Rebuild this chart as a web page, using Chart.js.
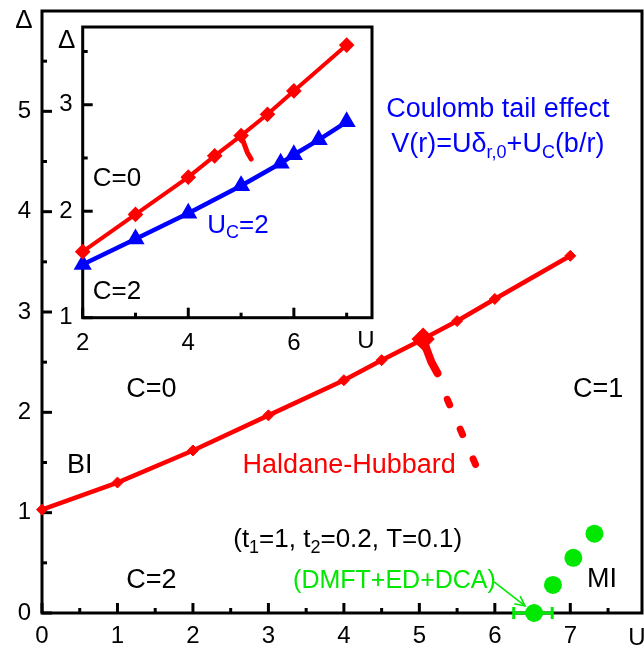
<!DOCTYPE html>
<html>
<head>
<meta charset="utf-8">
<script src="https://cdn.jsdelivr.net/npm/chart.js@4/dist/chart.umd.min.js"></script>
<style>
  html, body { margin: 0; padding: 0; background: #fff; }
  #wrap { position: relative; width: 644px; height: 652px; overflow: hidden; }
  #main { position: absolute; left: 0; top: 0; }
  #inset { position: absolute; left: 48px; top: 14px; }
</style>
</head>
<body>
<div id="wrap">
  <canvas id="main" width="644" height="652"></canvas>
  <canvas id="inset" width="336" height="340"></canvas>
</div>
<script>
// ---- Haldane-Hubbard phase boundary (gap Δ versus U) ----
const hhU   = [0, 1, 2, 3, 4, 4.5, 5, 5.5, 6, 7];
const hhGap = [1.03, 1.30, 1.62, 1.97, 2.32, 2.52, 2.71, 2.91, 3.13, 3.56];

// branch leaving the line near U = 5 (solid part, then dashed continuation)
const branchU   = [5.05, 5.10, 5.16, 5.24];
const branchGap = [2.73, 2.62, 2.50, 2.39];
const dashU   = [5.37, 5.75];
const dashGap = [2.13, 1.47];

// Mott transition points (DMFT+ED+DCA) and the error bar on the first one
const mottU   = [6.52, 6.77, 7.04, 7.32];
const mottGap = [0.00, 0.28, 0.55, 0.79];
const mottErrLo = 6.25, mottErrHi = 6.76;

// Coulomb-tail comparison (inset)
const insetU   = [2, 3, 4, 4.5, 5, 5.5, 6, 7];
const insetGap = [1.62, 1.97, 2.32, 2.52, 2.71, 2.91, 3.13, 3.56];
const insetBranchU   = [5.0, 5.06, 5.12, 5.19];
const insetBranchGap = [2.71, 2.63, 2.55, 2.49];
const tailU   = [2, 3, 4, 5, 5.75, 6, 6.47, 7];
const tailGap = [1.50, 1.74, 1.98, 2.24, 2.45, 2.53, 2.67, 2.84];

// tick values
const mainXTicks = [0, 1, 2, 3, 4, 5, 6, 7];
const mainXMinor = [0.5, 1.5, 2.5, 3.5, 4.5, 5.5, 6.5, 7.5];
const mainYTicks = [0, 1, 2, 3, 4, 5];
const mainYMinor = [0.5, 1.5, 2.5, 3.5, 4.5, 5.5];
const insetXTicks = [2, 4, 6];
const insetXMinor = [3, 5, 7];
const insetYTicks = [1, 2, 3];
const insetYMinor = [1.5, 2.5, 3.5];

const RED = '#ff0000', BLUE = '#0000ff', GREEN = '#00e800', BLACK = '#000000';
const FONT = "'Liberation Sans', Arial, Helvetica, sans-serif";

const pts = (xs, ys) => xs.map((v, i) => ({ x: v, y: ys[i] }));

// draws text made of runs, some of which may be subscripts
function richText(ctx, runs, x, y, align, size, color) {
  ctx.save();
  ctx.fillStyle = color;
  ctx.textBaseline = 'alphabetic';
  ctx.textAlign = 'left';
  const subSize = Math.round(size * 0.68);
  let w = 0;
  runs.forEach(r => {
    ctx.font = (r.sub ? subSize : size) + 'px ' + FONT;
    r.w = ctx.measureText(r.t).width;
    w += r.w;
  });
  let cx = align === 'center' ? x - w / 2 : (align === 'right' ? x - w : x);
  runs.forEach(r => {
    ctx.font = (r.sub ? subSize : size) + 'px ' + FONT;
    ctx.fillText(r.t, cx, r.sub ? y + size * 0.22 : y);
    cx += r.w;
  });
  ctx.restore();
}
const plain = t => [{ t }];

// box around the plot area plus inward major/minor tick marks
const framePlugin = {
  id: 'frame',
  beforeDatasetsDraw(chart, args, o) {
    const { ctx, chartArea: a, scales: { x, y } } = chart;
    ctx.save();
    ctx.strokeStyle = BLACK;
    ctx.lineWidth = o.width;
    ctx.strokeRect(a.left, a.top, a.right - a.left, a.bottom - a.top);
    const seg = (x1, y1, x2, y2) => { ctx.beginPath(); ctx.moveTo(x1, y1); ctx.lineTo(x2, y2); ctx.stroke(); };
    o.xMajor.forEach(v => { const p = x.getPixelForValue(v); seg(p, a.bottom, p, a.bottom - o.major); });
    o.xMinor.forEach(v => { const p = x.getPixelForValue(v); seg(p, a.bottom, p, a.bottom - o.minor); });
    o.yMajor.forEach(v => { const p = y.getPixelForValue(v); seg(a.left, p, a.left + o.major, p); });
    o.yMinor.forEach(v => { const p = y.getPixelForValue(v); seg(a.left, p, a.left + o.minor, p); });
    ctx.restore();
  }
};

// free text labels placed in data coordinates; axis symbols placed against the frame
const labelPlugin = {
  id: 'labels',
  afterDraw(chart, args, o) {
    const { ctx, chartArea: a, scales: { x, y } } = chart;
    (o.items || []).forEach(it => {
      richText(ctx, it.runs, x.getPixelForValue(it.u), y.getPixelForValue(it.d),
               it.align || 'center', it.size, it.color || BLACK);
    });
    (o.axisTitles || []).forEach(it => {
      const px = it.from === 'left' ? a.left + it.dx : a.right + it.dx;
      const py = it.fromY === 'top' ? a.top + it.dy : a.bottom + it.dy;
      richText(ctx, plain(it.text), px, py, 'center', it.size, BLACK);
    });
  }
};

// horizontal error bar and pointer arrow for the Mott points
const mottPlugin = {
  id: 'mott',
  afterDatasetsDraw(chart) {
    const { ctx, scales: { x, y } } = chart;
    ctx.save();
    ctx.strokeStyle = GREEN;
    ctx.fillStyle = GREEN;
    // error bar
    const yb = y.getPixelForValue(mottGap[0]);
    const xl = x.getPixelForValue(mottErrLo), xr = x.getPixelForValue(mottErrHi);
    ctx.lineWidth = 3;
    ctx.beginPath();
    ctx.moveTo(xl, yb); ctx.lineTo(xr, yb);
    ctx.moveTo(xl, yb - 6); ctx.lineTo(xl, yb + 6);
    ctx.moveTo(xr, yb - 6); ctx.lineTo(xr, yb + 6);
    ctx.stroke();
    // arrow from the label to the first point
    const x1 = x.getPixelForValue(5.99), y1 = y.getPixelForValue(0.31);
    const x2 = x.getPixelForValue(6.40), y2 = y.getPixelForValue(0.07);
    ctx.lineWidth = 1.6;
    ctx.beginPath(); ctx.moveTo(x1, y1); ctx.lineTo(x2, y2); ctx.stroke();
    const ang = Math.atan2(y2 - y1, x2 - x1), L = 11;
    ctx.beginPath();
    ctx.moveTo(x2 - L * Math.cos(ang - 0.45), y2 - L * Math.sin(ang - 0.45));
    ctx.lineTo(x2, y2);
    ctx.lineTo(x2 - L * Math.cos(ang + 0.45), y2 - L * Math.sin(ang + 0.45));
    ctx.stroke();
    ctx.restore();
  }
};

function linearAxis(min, max, ticks, fitSize, horizontal, pad, size) {
  return {
    type: 'linear',
    min, max,
    afterBuildTicks: s => { s.ticks = ticks.map(v => ({ value: v })); },
    afterFit: s => {
      if (horizontal) s.height = fitSize; else s.width = fitSize;
      // keep the plot area fixed by the layout padding alone
      s.paddingTop = 0; s.paddingBottom = 0; s.paddingLeft = 0; s.paddingRight = 0;
    },
    grid: { display: false, drawTicks: false },
    border: { display: false },
    ticks: { color: BLACK, padding: pad, font: { family: FONT, size }, maxRotation: 0, autoSkip: false }
  };
}

Chart.defaults.font.family = FONT;

// ---------------- main diagram ----------------
new Chart(document.getElementById('main'), {
  type: 'line',
  data: {
    datasets: [
      {
        data: pts(hhU, hhGap), borderColor: RED, backgroundColor: RED, borderWidth: 4.5,
        pointStyle: 'rectRot', pointRadius: 5.5, pointBorderWidth: 1, clip: false
      },
      {
        data: pts(branchU, branchGap), borderColor: RED, backgroundColor: RED, borderWidth: 8,
        borderCapStyle: 'round', borderJoinStyle: 'round',
        pointStyle: 'rectRot', pointRadius: [6, 0, 0, 0], clip: false
      },
      {
        data: pts(dashU, dashGap), borderColor: RED, borderWidth: 7, borderCapStyle: 'round',
        borderDash: [6, 26.5], pointRadius: 0, clip: false
      },
      {
        data: pts(mottU, mottGap), showLine: false, borderColor: GREEN, backgroundColor: GREEN,
        pointStyle: 'circle', pointRadius: 9, pointBorderWidth: 0, clip: false
      }
    ]
  },
  options: {
    responsive: false, animation: false, devicePixelRatio: 1,
    layout: { autoPadding: false, padding: { left: 0, right: 2, top: 11, bottom: 0 } },
    plugins: {
      legend: { display: false }, tooltip: { enabled: false },
      frame: { width: 3, major: 10, minor: 5, xMajor: mainXTicks, xMinor: mainXMinor, yMajor: mainYTicks, yMinor: mainYMinor },
      labels: {
        items: [
          { runs: plain('C=0'), u: 1.45, d: 2.15, size: 27 },
          { runs: plain('C=1'), u: 7.37, d: 2.15, size: 27 },
          { runs: plain('BI'), u: 0.33, d: 1.40, size: 27, align: 'left' },
          { runs: plain('Haldane-Hubbard'), u: 4.07, d: 1.40, size: 27, color: RED },
          { runs: [{ t: '(t' }, { t: '1', sub: true }, { t: '=1, t' }, { t: '2', sub: true }, { t: '=0.2, T=0.1)' }], u: 4.05, d: 0.66, size: 26 },
          { runs: plain('C=2'), u: 1.45, d: 0.25, size: 27 },
          { runs: plain('(DMFT+ED+DCA)'), u: 4.67, d: 0.25, size: 25, color: GREEN },
          { runs: plain('MI'), u: 7.42, d: 0.26, size: 27 },
          { runs: plain('Coulomb tail effect'), u: 6.04, d: 4.94, size: 27, color: BLUE },
          { runs: [{ t: 'V(r)=U' }, { t: 'δ' }, { t: 'r,0', sub: true }, { t: '+U' }, { t: 'C', sub: true }, { t: '(b/r)' }], u: 6.04, d: 4.59, size: 27, color: BLUE }
        ],
        axisTitles: [
          { text: 'Δ', from: 'left', dx: -18, fromY: 'top', dy: 17, size: 26 },
          { text: 'U', from: 'right', dx: -5, fromY: 'bottom', dy: 32, size: 24 }
        ]
      }
    },
    scales: {
      x: linearAxis(0, 7.95, mainXTicks, 39, true, 9, 24),
      y: linearAxis(0, 6.0, mainYTicks, 42, false, 11, 24)
    }
  },
  plugins: [framePlugin, mottPlugin, labelPlugin]
});

// ---------------- inset: Coulomb tail ----------------
new Chart(document.getElementById('inset'), {
  type: 'line',
  data: {
    datasets: [
      {
        data: pts(insetU, insetGap), borderColor: RED, backgroundColor: RED, borderWidth: 4,
        pointStyle: 'rectRot', pointRadius: 5, clip: false
      },
      {
        data: pts(insetBranchU, insetBranchGap), borderColor: RED, backgroundColor: RED, borderWidth: 5,
        borderCapStyle: 'round', pointRadius: 0, clip: false
      },
      {
        data: pts(tailU, tailGap), borderColor: BLUE, backgroundColor: BLUE, borderWidth: 4.5,
        pointStyle: 'triangle', pointRadius: 6, clip: false
      }
    ]
  },
  options: {
    responsive: false, animation: false, devicePixelRatio: 1,
    layout: { autoPadding: false, padding: { left: 0, right: 12, top: 13, bottom: 0 } },
    plugins: {
      legend: { display: false }, tooltip: { enabled: false },
      frame: { width: 3, major: 10, minor: 5, xMajor: insetXTicks, xMinor: insetXMinor, yMajor: insetYTicks, yMinor: insetYMinor },
      labels: {
        items: [
          { runs: plain('C=0'), u: 2.65, d: 2.24, size: 26 },
          { runs: plain('C=2'), u: 2.65, d: 1.18, size: 26 },
          { runs: [{ t: 'U' }, { t: 'C', sub: true }, { t: '=2' }], u: 4.36, d: 1.80, size: 26, color: BLUE, align: 'left' }
        ],
        axisTitles: [
          { text: 'Δ', from: 'left', dx: -16, fromY: 'top', dy: 21, size: 26 },
          { text: 'U', from: 'right', dx: -6, fromY: 'bottom', dy: 30, size: 24 }
        ]
      }
    },
    scales: {
      x: linearAxis(2, 7.48, insetXTicks, 36.3, true, 11, 24),
      y: linearAxis(1, 3.73, insetYTicks, 34.7, false, 10, 24)
    }
  },
  plugins: [framePlugin, labelPlugin]
});
</script>
</body>
</html>
